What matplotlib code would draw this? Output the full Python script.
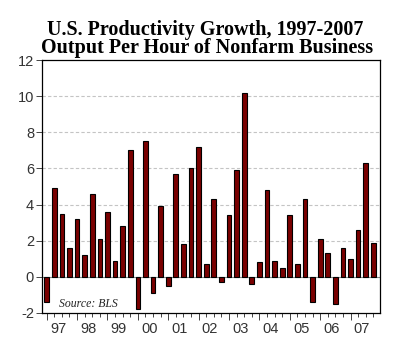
import matplotlib.pyplot as plt
import numpy as np

years = ['97', '98', '99', '00', '01', '02', '03', '04', '05', '06', '07']
# quarterly productivity growth, 1997Q1 - 2007Q4
growth = [-1.4, 4.9, 3.5, 1.6,
          3.2, 1.2, 4.6, 2.1,
          3.6, 0.9, 2.8, 7.0,
          -1.8, 7.5, -0.9, 3.9,
          -0.5, 5.7, 1.8, 6.0,
          7.2, 0.7, 4.3, -0.3,
          3.4, 5.9, 10.2, -0.4,
          0.8, 4.8, 0.9, 0.5,
          3.4, 0.7, 4.3, -1.4,
          2.1, 1.3, -1.5, 1.6,
          1.0, 2.6, 6.3, 1.9]
yticks = [-2, 0, 2, 4, 6, 8, 10, 12]

fig = plt.figure(figsize=(4, 3.43), dpi=100)
ax = fig.add_axes([41.7 / 400, 1 - 313 / 343, (380 - 41.7) / 400, (313 - 60) / 343])

x = np.arange(len(growth))
for y in [2, 4, 6, 8, 10]:
    ax.axhline(y, color='#c4c4c4', linewidth=0.8, linestyle=(0, (3, 2)), zorder=0)
ax.axhline(0, color='#888888', linewidth=0.8, zorder=0)

ax.bar(x, growth, width=0.62, color='#7a0000', edgecolor='black', linewidth=0.8, zorder=2)

ax.set_xlim(-0.66, 43.88)
ax.set_ylim(-2, 12)
ax.set_yticks(yticks)
ax.set_yticklabels([str(t) for t in yticks], fontsize=10.5, family='Liberation Sans', color='#333333')

ax.set_xticks(x, minor=True)
ax.set_xticks(x[::4])
ax.set_xticklabels([])
ax.tick_params(axis='x', which='major', length=5, width=0.7, color='#444444')
ax.tick_params(axis='x', which='minor', length=3, width=0.7, color='#444444')
ax.tick_params(axis='y', length=4, width=0.7, color='#444444', pad=1.5)
for i, yr in enumerate(years):
    ax.text(4 * i + 1.5, -2.5, yr, ha='center', va='top', fontsize=10.5,
            family='Liberation Sans', color='#333333')

for s in ax.spines.values():
    s.set_linewidth(0.9)

ax.text(0.05, 0.025, 'Source: BLS', transform=ax.transAxes, fontsize=8.5,
        family='Liberation Serif', style='italic', color='#222222')

fig.text(0.512, 1 - 35 / 343, 'U.S. Productivity Growth, 1997-2007', ha='center', va='baseline',
         fontsize=14.5, fontweight='bold', family='Liberation Serif')
fig.text(0.517, 1 - 53 / 343, 'Output Per Hour of Nonfarm Business', ha='center', va='baseline',
         fontsize=14.5, fontweight='bold', family='Liberation Serif')

plt.savefig('out.png', dpi=100)
